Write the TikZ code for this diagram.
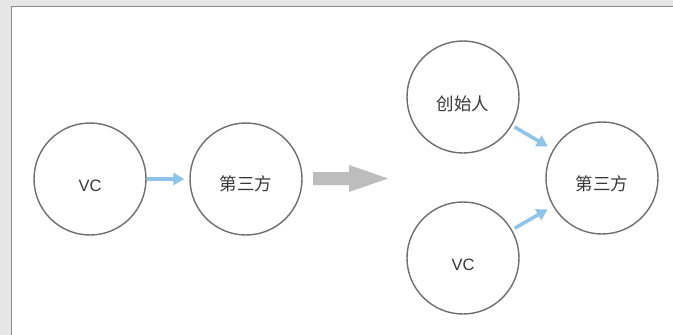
\documentclass[tikz,border=0pt]{standalone}
\usepackage{fontspec}
\setmainfont{Liberation Sans}
\newfontfamily\cjk{Noto Sans CJK SC}
\usetikzlibrary{arrows.meta}
\definecolor{bandgray}{HTML}{E6E6E6}
\definecolor{edgegray}{HTML}{8A8A8A}
\definecolor{ringgray}{HTML}{6E6E6E}
\definecolor{txtgray}{HTML}{383838}
\definecolor{flowblue}{HTML}{8EC3EA}
\definecolor{bigarrowgray}{HTML}{BDBDBD}
\tikzset{
  party/.style={circle, draw=ringgray, line width=1.4pt, minimum size=112pt, inner sep=0pt},
  latinlabel/.style={text=txtgray, font=\fontsize{16.5}{16.5}\selectfont},
  cjklabel/.style={text=txtgray, font=\cjk\fontsize{17.5}{17.5}\selectfont},
  flow/.style={draw=flowblue, line width=3.5pt, -{Triangle[length=11pt,width=12pt]}}
}
\begin{document}
\begin{tikzpicture}[x=1pt,y=-1pt]
\useasboundingbox (0,0) rectangle (673,335);
% frame
\fill[bandgray] (0,0) rectangle (673,335);
\fill[white] (12,7) rectangle (673,335);
\draw[edgegray, line width=1.5pt] (11.5,335) -- (11.5,6.5) -- (673,6.5);
% left group
\node[party] (vcA) at (90,179) {};
\node[party] (thirdA) at (246,179) {};
\node[latinlabel] (vcAt) at (90,186) {VC};
\node[cjklabel] (thirdAt) at (246,184) {第三方};
\draw[flow, shorten <=0pt, shorten >=5pt] (vcA) -- (thirdA);
% big transition arrow
\fill[bigarrowgray] (313,172) -- (349,172) -- (349,165) -- (388,178.5) -- (349,192) -- (349,185) -- (313,185) -- cycle;
% right group
\node[party] (founder) at (463,97) {};
\node[party] (thirdB) at (602,178) {};
\node[party] (vcB) at (463,258) {};
\node[cjklabel] (foundert) at (463,104) {创始人};
\node[cjklabel] (thirdBt) at (602,184) {第三方};
\node[latinlabel] (vcBt) at (463,265) {VC};
\draw[flow, shorten <=3pt, shorten >=6pt] (founder) -- (thirdB);
\draw[flow, shorten <=3pt, shorten >=6pt] (vcB) -- (thirdB);
\end{tikzpicture}
\end{document}
